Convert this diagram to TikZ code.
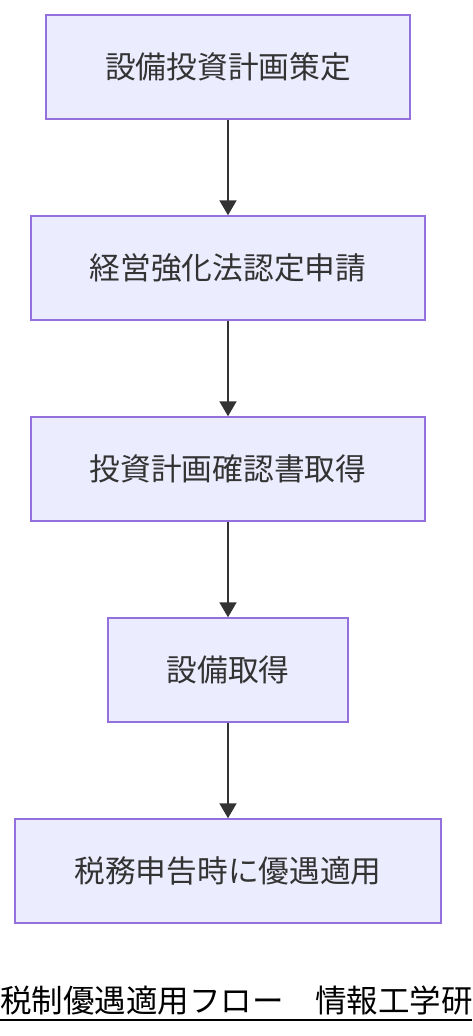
\documentclass[tikz,border=0pt]{standalone}
\usepackage{fontspec}
\setmainfont{Noto Sans CJK JP}
\usetikzlibrary{arrows.meta}
\definecolor{boxfill}{HTML}{ECECFF}
\definecolor{boxdraw}{HTML}{9370DB}
\definecolor{ink}{HTML}{333333}
\tikzset{
  stepbox/.style={draw=boxdraw, fill=boxfill, line width=1.5pt, inner sep=0pt,
    font=\fontsize{30.7}{35}\selectfont, text=ink},
  flow/.style={draw=ink, line width=2pt, -{Triangle[length=15pt,width=17pt]}},
}
\begin{document}
\begin{tikzpicture}[x=1pt,y=-1pt]
\useasboundingbox (0,0) rectangle (472,1036);
\node[stepbox, minimum width=364pt, minimum height=104pt] (a) at (228,67) {設備投資計画策定};
\node[stepbox, minimum width=394pt, minimum height=104pt] (b) at (228,268) {経営強化法認定申請};
\node[stepbox, minimum width=394pt, minimum height=104pt] (c) at (228,469) {投資計画確認書取得};
\node[stepbox, minimum width=240pt, minimum height=104pt] (d) at (228,670) {設備取得};
\node[stepbox, minimum width=426pt, minimum height=104pt] (e) at (228,871) {税務申告時に優遇適用};
\draw[flow] (a) -- (b);
\draw[flow] (b) -- (c);
\draw[flow] (c) -- (d);
\draw[flow] (d) -- (e);
\begin{scope}
\clip (0,0) rectangle (472,1036);
\node[anchor=base west, inner sep=0pt, font=\fontsize{31.5}{36}\selectfont, text=black] (cap) at (0,1012) {税制優遇適用フロー　情報工学研};
\draw[black, line width=2pt] (0,1020) coordinate (u1) -- (472,1020) coordinate (u2);
\end{scope}
\end{tikzpicture}
\end{document}
